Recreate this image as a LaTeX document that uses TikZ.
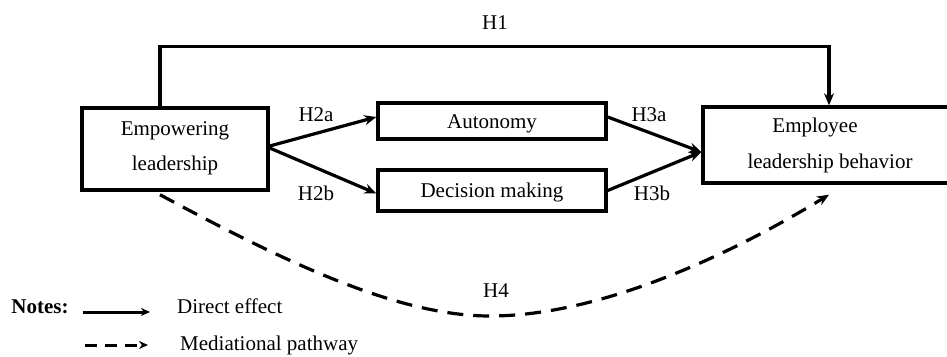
\documentclass[tikz,border=0pt]{standalone}
\usepackage{fontspec}
\setmainfont{Liberation Serif}
\usetikzlibrary{arrows.meta,calc}
\begin{document}
\begin{tikzpicture}[x=1pt,y=-1pt,
  box/.style={draw,line width=3.4pt,inner sep=0pt},
  txt/.style={anchor=base,inner sep=0pt,font=\fontsize{21}{25}\selectfont},
  arr/.style={line width=3.2pt,-{Stealth[length=12pt,width=10pt]}},
  darr/.style={arr,dash pattern=on 16pt off 10pt}]
\useasboundingbox (0,0) rectangle (947,356);
% boxes
\node[box,minimum width=186pt,minimum height=82pt] (emp) at (175,149) {};
\node[box,minimum width=228pt,minimum height=36pt] (aut) at (492,121) {};
\node[box,minimum width=228pt,minimum height=41pt] (dec) at (492,190.5) {};
\node[box,minimum width=252pt,minimum height=76pt] (ebh) at (829,145) {};
% box texts
\node[txt] (t1) at (175,135) {Empowering};
\node[txt] (t2) at (175,170) {leadership};
\node[txt] (t3) at (492,128) {Autonomy};
\node[txt] (t4) at (492,197) {Decision making};
\node[txt] (t5) at (815,132) {Employee};
\node[txt] (t6) at (830,168) {leadership behavior};
% labels
\node[txt] (h1) at (495,29) {H1};
\node[txt] (h2a) at (316,121) {H2a};
\node[txt] (h2b) at (316,200) {H2b};
\node[txt] (h3a) at (649,121) {H3a};
\node[txt] (h3b) at (652,200) {H3b};
\node[txt] (h4) at (496,297) {H4};
% coordinates
\coordinate (h1s) at ($(emp.north)+(-15,0)$);
\coordinate (h1c1) at ($(h1s)+(0,-60)$);
\coordinate (h1c2) at ($(ebh.north)+(0,-59)$);
\coordinate (e2a) at ($(emp.east)+(0,-3)$);
\coordinate (e2b) at ($(emp.east)+(0,-1)$);
\coordinate (aw) at ($(aut.west)+(0,-4)$);
\coordinate (dw) at ($(dec.west)+(0,3)$);
\coordinate (ae) at ($(aut.east)+(0,-4)$);
\coordinate (de) at ($(dec.east)+(0,0)$);
\coordinate (ew) at ($(ebh.west)+(0,7)$);
\coordinate (ds) at ($(emp.south)+(-15,3)$);
\coordinate (dm) at (490,316);
\coordinate (dt) at ($(ebh.south)+(0,10)$);
% connectors
\draw[arr] (h1s) -- (h1c1) -- (h1c2) -- (ebh.north);
\draw[arr] (e2a) -- (aw);
\draw[arr] (e2b) -- (dw);
\draw[arr] (ae) -- (ew);
\draw[arr] (de) -- (ew);
\draw[darr] (ds) .. controls (290,265) and (400,316) .. (dm)
  .. controls (600,316) and (730,255) .. (dt);
% legend
\node[txt,font=\fontsize{21}{25}\selectfont\bfseries] (notes) at (40,313) {Notes:};
\coordinate (l1a) at (83,312);
\coordinate (l1b) at (150,312);
\coordinate (l2a) at (85,345);
\coordinate (l2b) at (148,345);
\draw[line width=3pt,-{Stealth[length=9pt,width=8pt]}] (l1a) -- (l1b);
\draw[line width=3pt,dash pattern=on 12pt off 8pt,-{Stealth[length=9pt,width=8pt]}] (l2a) -- (l2b);
\node[txt,anchor=base west] (de1) at (177,313) {Direct effect};
\node[txt,anchor=base west] (mp) at (180,350) {Mediational pathway};
\end{tikzpicture}
\end{document}
